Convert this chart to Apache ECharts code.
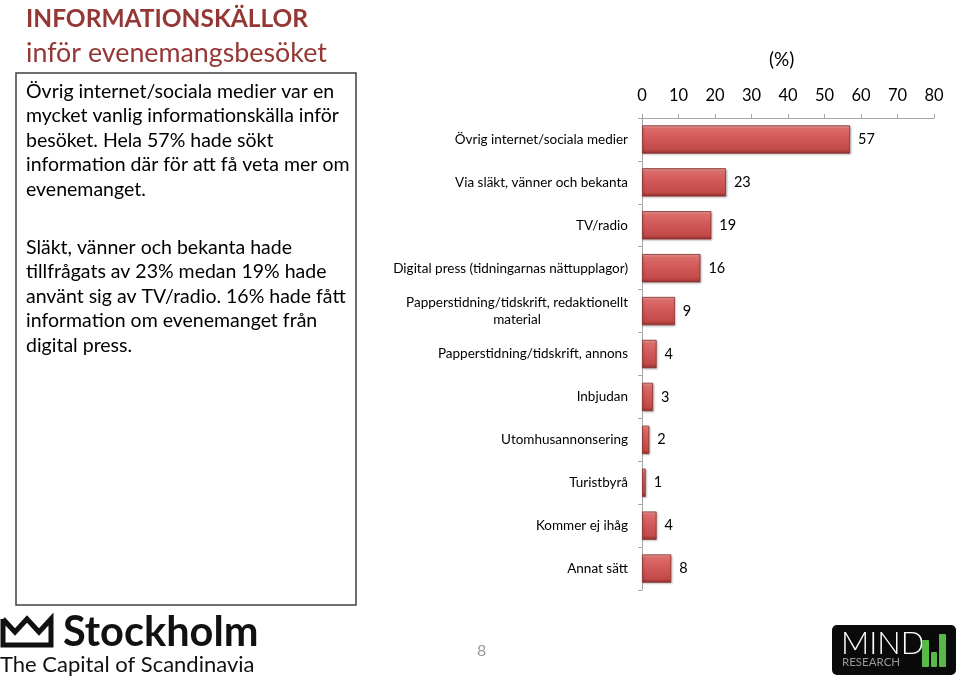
<!DOCTYPE html>
<html><head><meta charset="utf-8">
<script src="https://cdn.jsdelivr.net/npm/echarts@6/dist/echarts.min.js"></script>
<style>html,body{margin:0;padding:0;background:#fff}#c{width:960px;height:679px}</style>
</head><body><div id="c"></div>
<script>
var categories = ['Övrig internet/sociala medier','Via släkt, vänner och bekanta','TV/radio','Digital press (tidningarnas nättupplagor)','Papperstidning/tidskrift, redaktionellt material','Papperstidning/tidskrift, annons','Inbjudan','Utomhusannonsering','Turistbyrå','Kommer ej ihåg','Annat sätt'];
var values = [57, 23, 19, 16, 9, 4, 3, 2, 1, 4, 8];
var xTicks = [0, 10, 20, 30, 40, 50, 60, 70, 80];
var FONT = 'Lato';
var boxLines1 = ['Övrig internet/sociala medier var en','mycket vanlig informationskälla inför','besöket. Hela 57% hade sökt','information där för att få veta mer om','evenemanget.'];
var boxLines2 = ['Släkt, vänner och bekanta hade','tillfrågats av 23% medan 19% hade','använt sig av TV/radio. 16% hade fått','information om evenemanget från','digital press.'];

var chart = echarts.init(document.getElementById('c'));
var barColor = new echarts.graphic.LinearGradient(0,0,0,1,[
  {offset:0,color:'#f2aaa8'},{offset:0.12,color:'#dc6c6a'},{offset:0.5,color:'#d05755'},{offset:0.85,color:'#c24b49'},{offset:1,color:'#93302e'}]);
var graphics = [
  {type:'text',left:26,top:7,style:{text:'INFORMATIONSKÄLLOR',font:'bold 24.5px '+FONT,fill:'#953735'}},
  {type:'text',left:26,top:40,style:{text:'inför evenemangsbesöket',font:'26.8px '+FONT,fill:'#953735'}},
  {type:'rect',shape:{x:16,y:73,width:340,height:532},style:{fill:'none',stroke:'#404040',lineWidth:1.5}},
  {type:'text',left:26,top:79,style:{text:boxLines1.join('\n'),font:'19.5px '+FONT,fill:'#000',lineHeight:24.6}},
  {type:'text',left:26,top:235,style:{text:boxLines2.join('\n'),font:'19.5px '+FONT,fill:'#000',lineHeight:24.6}},
  {type:'text',left:769,top:50,style:{text:'(%)',font:'19px '+FONT,fill:'#000'}},
  {type:'text',left:477,top:643,style:{text:'8',font:'16px '+FONT,fill:'#999'}},
  {type:'polyline',shape:{points:[[3,619],[3,645],[51,645],[51,619],[39,632],[27,619],[15,632],[3,619]]},style:{fill:'none',stroke:'#111',lineWidth:5,lineJoin:'miter'}},
  {type:'text',left:63,top:612,style:{text:'Stockholm',font:'bold 41.5px '+FONT,fill:'#111'}},
  {type:'text',left:0,top:654,style:{text:'The Capital of Scandinavia',font:'22px '+FONT,fill:'#111'}},
  {type:'rect',shape:{x:832,y:625,width:124,height:50,r:5},style:{fill:'#0a0a0a'}},
  {type:'text',left:841,top:628,style:{text:'MIND',font:'300 31px '+FONT,fill:'#fff'}},
  {type:'text',left:842,top:656,style:{text:'RESEARCH',font:'11.5px '+FONT,fill:'#9a9a9a'}},
  {type:'rect',shape:{x:922,y:640,width:7,height:27,r:1},style:{fill:'#58b947'}},
  {type:'rect',shape:{x:931,y:652,width:6,height:15,r:1},style:{fill:'#58b947'}},
  {type:'rect',shape:{x:939,y:634,width:7,height:33,r:1},style:{fill:'#58b947'}}
];
chart.setOption({
  animation:false,
  textStyle:{fontFamily:FONT},
  grid:{left:642,right:26,top:118,height:472,containLabel:false},
  xAxis:{type:'value',position:'top',min:0,max:80,interval:10,
    axisLine:{show:true,lineStyle:{color:'#a6a6a6'}},
    axisTick:{show:true,length:4,lineStyle:{color:'#a6a6a6'}},
    splitLine:{show:false},
    axisLabel:{fontSize:16.5,color:'#000',margin:14,fontFamily:FONT,
      formatter:function(v){return xTicks.indexOf(v)>=0?String(v):'';}}},
  yAxis:{type:'category',inverse:true,data:categories,
    axisLine:{show:true,lineStyle:{color:'#a6a6a6'}},
    axisTick:{show:true,length:4,lineStyle:{color:'#a6a6a6'}},
    axisLabel:{fontSize:13.5,color:'#000',margin:14,fontFamily:FONT,
      formatter:function(v){
        if(v.indexOf('redaktionellt')>=0){return '{a|Papperstidning/tidskrift, redaktionellt}\n{b|material}';}
        return v;},
      rich:{a:{fontSize:13.5,fontFamily:FONT,color:'#000',lineHeight:17},b:{fontSize:13.5,fontFamily:FONT,color:'#000',align:'center',lineHeight:17}}}},
  series:[{type:'bar',data:values,barCategoryGap:'34%',
    itemStyle:{color:barColor,borderColor:'#8a2f2d',borderWidth:0.8,shadowColor:'rgba(0,0,0,0.25)',shadowBlur:2,shadowOffsetX:1,shadowOffsetY:1},
    label:{show:true,position:'right',distance:8,fontSize:14.5,color:'#000',fontFamily:FONT}}],
  graphic:graphics
});
</script></body></html>
